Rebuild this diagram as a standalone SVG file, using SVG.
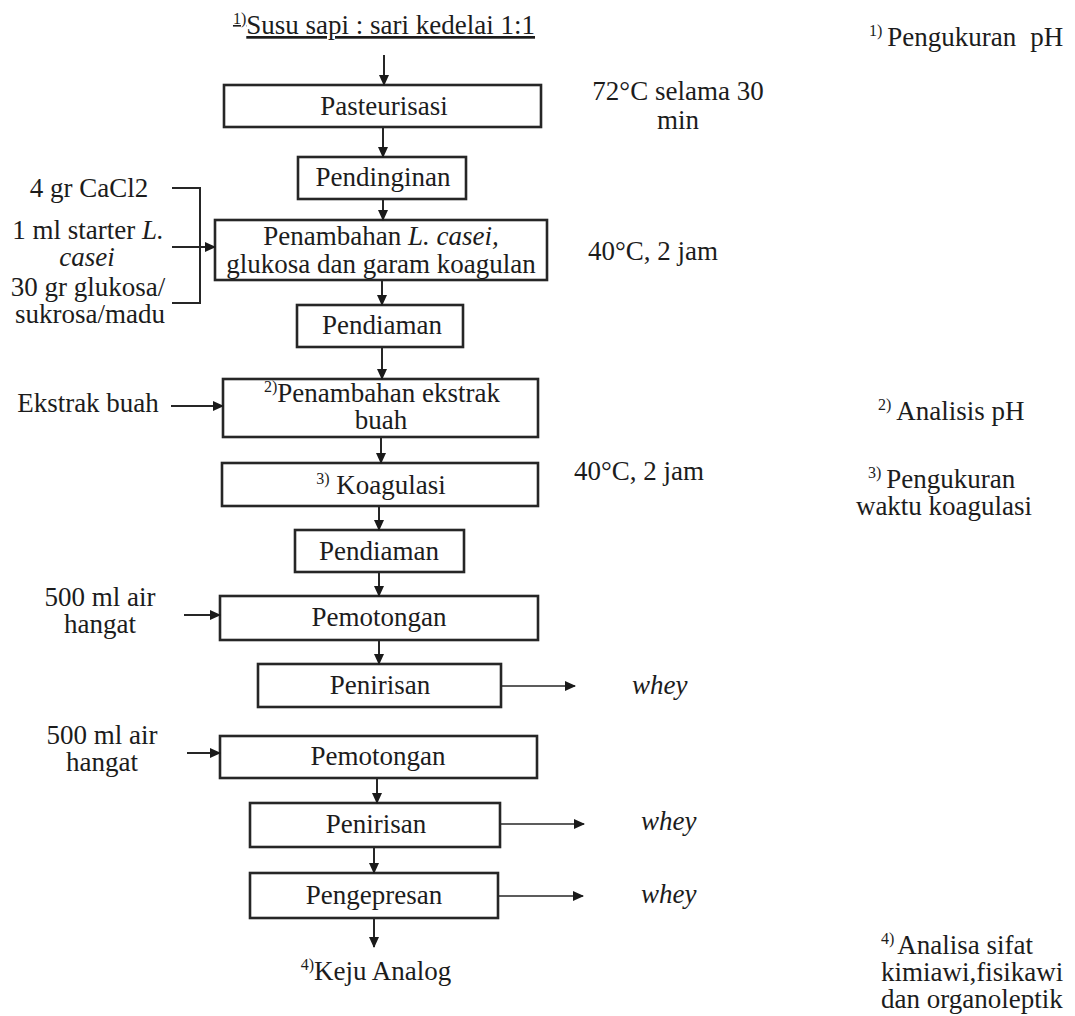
<svg xmlns="http://www.w3.org/2000/svg" width="1075" height="1016" viewBox="0 0 1075 1016">
<style>
text{font-family:"Liberation Serif","DejaVu Serif",serif;fill:#1c1c1c;font-size:27px}
.m{text-anchor:middle}
.i{font-style:italic}
.sup{font-size:16px}
.box{fill:#fff;stroke:#262626;stroke-width:2.6}
.c line,.c polyline{stroke:#262626;stroke-width:2;fill:none}
.c .t{stroke-width:1.6}
</style>
<defs>
<marker id="ah" markerUnits="userSpaceOnUse" markerWidth="11" markerHeight="10" refX="10" refY="5" orient="auto">
<path d="M0,0 L11,5 L0,10 z" fill="#1a1a1a"/>
</marker>
</defs>
<rect width="1075" height="1016" fill="#fff"/>

<g id="title"><text class="m" x="384" y="34" text-decoration="underline"><tspan class="sup" dy="-10">1)</tspan><tspan dy="10">Susu sapi : sari kedelai 1:1</tspan></text></g>

<g id="n1"><rect class="box" x="224" y="85" width="317" height="42"/><text class="m" x="384" y="115">Pasteurisasi</text></g>
<g id="n2"><rect class="box" x="298" y="157" width="168" height="42"/><text class="m" x="383" y="186">Pendinginan</text></g>
<g id="n3"><rect class="box" x="215" y="220" width="332" height="60"/><text class="m" x="381" y="245">Penambahan <tspan class="i">L. casei,</tspan></text><text class="m" x="381" y="273">glukosa dan garam koagulan</text></g>
<g id="n4"><rect class="box" x="297" y="305" width="166" height="42"/><text class="m" x="382" y="334">Pendiaman</text></g>
<g id="n5"><rect class="box" x="223" y="379" width="315" height="58"/><text class="m" x="382" y="402"><tspan class="sup" dy="-10">2)</tspan><tspan dy="10">Penambahan ekstrak</tspan></text><text class="m" x="381" y="429">buah</text></g>
<g id="n6"><rect class="box" x="222" y="463" width="316" height="43"/><text class="m" x="381" y="494"><tspan class="sup" dy="-10">3)</tspan><tspan dy="10"> Koagulasi</tspan></text></g>
<g id="n7"><rect class="box" x="295" y="530" width="169" height="42"/><text class="m" x="379" y="560">Pendiaman</text></g>
<g id="n8"><rect class="box" x="220" y="596" width="318" height="44"/><text class="m" x="379" y="626">Pemotongan</text></g>
<g id="n9"><rect class="box" x="258" y="664" width="243" height="43"/><text class="m" x="380" y="694">Penirisan</text></g>
<g id="n10"><rect class="box" x="220" y="736" width="317" height="42"/><text class="m" x="378" y="765">Pemotongan</text></g>
<g id="n11"><rect class="box" x="250" y="803" width="250" height="44"/><text class="m" x="376" y="833">Penirisan</text></g>
<g id="n12"><rect class="box" x="250" y="873" width="248" height="45"/><text class="m" x="374" y="904">Pengepresan</text></g>
<g id="n13"><text class="m" x="376" y="980"><tspan class="sup" dy="-10">4)</tspan><tspan dy="10">Keju Analog</tspan></text></g>

<g id="in1"><text class="m" x="89" y="197">4 gr CaCl2</text>
<text class="m" x="88" y="239">1 ml starter <tspan class="i">L.</tspan></text>
<text class="m i" x="87" y="266">casei</text>
<text class="m" x="88" y="296">30 gr glukosa/</text>
<text class="m" x="90" y="323">sukrosa/madu</text></g>
<g id="in2"><text class="m" x="88" y="412">Ekstrak buah</text></g>
<g id="in3"><text class="m" x="100" y="606">500 ml air</text><text class="m" x="100" y="633">hangat</text></g>
<g id="in4"><text class="m" x="102" y="744">500 ml air</text><text class="m" x="102" y="771">hangat</text></g>

<g id="out1"><text class="i" x="632" y="694">whey</text></g>
<g id="out2"><text class="i" x="641" y="830">whey</text></g>
<g id="out3"><text class="i" x="641" y="903">whey</text></g>

<g id="cond1"><text class="m" x="678" y="100">72°C selama 30</text><text class="m" x="678" y="129">min</text></g>
<g id="cond2"><text x="588" y="260">40°C, 2 jam</text></g>
<g id="cond3"><text x="574" y="480">40°C, 2 jam</text></g>

<g id="note1"><text x="869" y="46"><tspan class="sup" dy="-10">1)</tspan><tspan dy="10" dx="5">Pengukuran</tspan><tspan dx="14">pH</tspan></text></g>
<g id="note2"><text x="878" y="420"><tspan class="sup" dy="-10">2)</tspan><tspan dy="10" dx="5">Analisis pH</tspan></text></g>
<g id="note3"><text x="868" y="488"><tspan class="sup" dy="-10">3)</tspan><tspan dy="10" dx="5">Pengukuran</tspan></text><text class="m" x="944" y="515">waktu koagulasi</text></g>
<g id="note4"><text x="881" y="954"><tspan class="sup" dy="-10">4)</tspan><tspan dy="10" dx="3">Analisa sifat</tspan></text><text x="881" y="981">kimiawi,fisikawi</text><text x="881" y="1008">dan organoleptik</text></g>

<g class="c" id="connectors">
<line x1="384" y1="55" x2="384" y2="85" marker-end="url(#ah)"/>
<line x1="383" y1="127" x2="383" y2="157" marker-end="url(#ah)"/>
<line x1="383" y1="199" x2="383" y2="220" marker-end="url(#ah)"/>
<line x1="382" y1="280" x2="382" y2="305" marker-end="url(#ah)"/>
<line x1="382" y1="347" x2="382" y2="379" marker-end="url(#ah)"/>
<line x1="381" y1="437" x2="381" y2="463" marker-end="url(#ah)"/>
<line x1="379" y1="506" x2="379" y2="530" marker-end="url(#ah)"/>
<line x1="379" y1="572" x2="379" y2="596" marker-end="url(#ah)"/>
<line x1="379" y1="640" x2="379" y2="664" marker-end="url(#ah)"/>
<line x1="377" y1="778" x2="377" y2="803" marker-end="url(#ah)"/>
<line x1="374" y1="847" x2="374" y2="873" marker-end="url(#ah)"/>
<line x1="374" y1="918" x2="374" y2="947" marker-end="url(#ah)"/>
<polyline points="172,188 200,188 200,303 172,303"/>
<line x1="172" y1="247" x2="200" y2="247"/>
<line x1="200" y1="247" x2="215" y2="247" marker-end="url(#ah)"/>
<line x1="171" y1="406" x2="223" y2="406" marker-end="url(#ah)"/>
<line x1="184" y1="615" x2="220" y2="615" marker-end="url(#ah)"/>
<line x1="187" y1="753" x2="220" y2="753" marker-end="url(#ah)"/>
<line class="t" x1="501" y1="686" x2="575" y2="686" marker-end="url(#ah)"/>
<line class="t" x1="500" y1="824" x2="584" y2="824" marker-end="url(#ah)"/>
<line class="t" x1="498" y1="896" x2="583" y2="896" marker-end="url(#ah)"/>
</g>
</svg>
